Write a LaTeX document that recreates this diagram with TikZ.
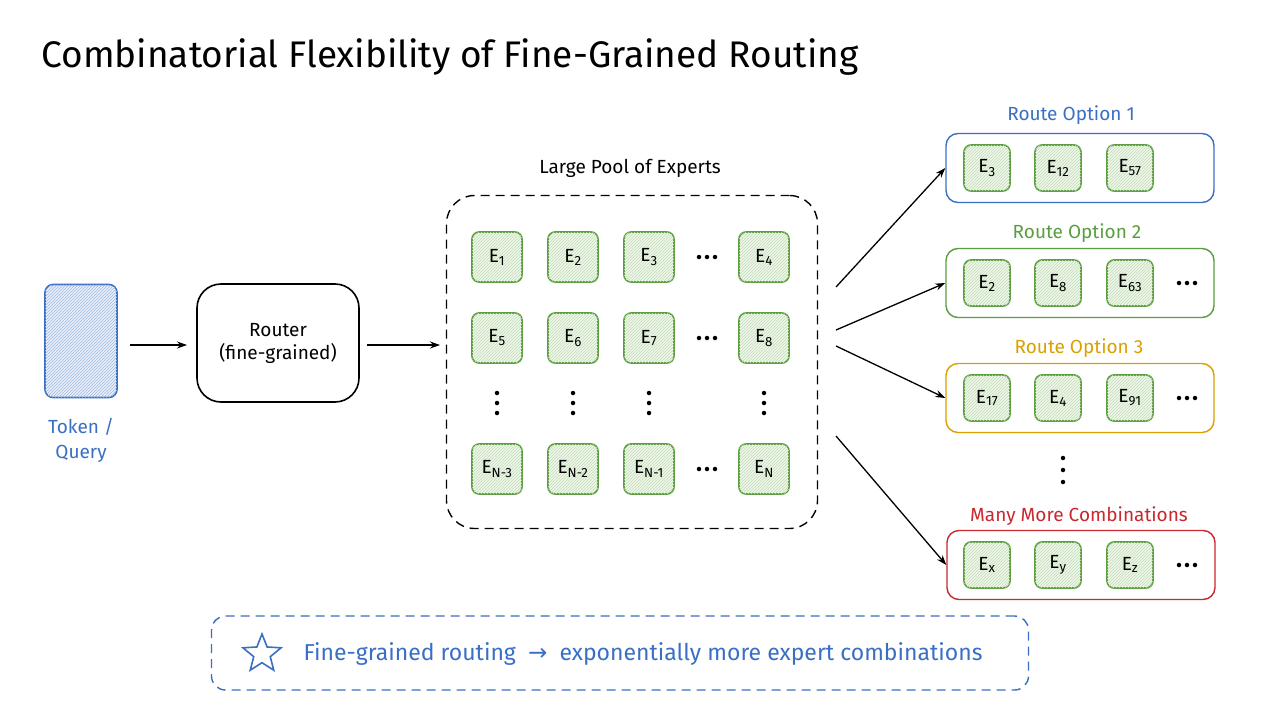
\documentclass[tikz,border=0pt]{standalone}
\usepackage{fontspec}
\setmainfont{Fira Sans}
\newfontfamily\dv{DejaVu Sans}
\usetikzlibrary{patterns,shapes.geometric,arrows.meta}
\definecolor{gE}{HTML}{5A9E3E}
\definecolor{gF}{HTML}{EEF7E8}
\definecolor{bB}{HTML}{3A6FC4}
\definecolor{oO}{HTML}{D9A000}
\definecolor{rR}{HTML}{C8282E}
\newcommand{\Ex}[1]{E\textsubscript{#1}}
\begin{document}
\begin{tikzpicture}[x=1pt,y=-1pt,
  ex/.style={draw=gE,line width=1.6pt,rounded corners=7pt,fill=gF,minimum width=#1,minimum height=#1,
     font=\fontsize{19}{19}\selectfont,inner sep=0pt,postaction={pattern=north east lines,pattern color=gE!35}},
  ex/.default=50pt,
  arr/.style={-{Stealth[length=10pt,width=7pt]},line width=1.3pt},
  rbox/.style={draw=#1,line width=1.4pt,rounded corners=12pt,minimum width=268pt,minimum height=69pt},
  lab/.style={font=\fontsize{19}{19}\selectfont},
  dot/.style={circle,fill,inner sep=0pt,minimum size=4.5pt}]
\useasboundingbox[fill=white] (0,0) rectangle (1280,720);
\node[anchor=west,font=\fontsize{37}{37}\selectfont] (title) at (38,57) {Combinatorial Flexibility of Fine-Grained Routing};
% token
\node[draw=bB,line width=1.6pt,rounded corners=8pt,fill=bB!10,minimum width=72pt,minimum height=113pt,postaction={pattern=north east lines,pattern color=bB!50}] (tok) at (81,341) {};
\node[lab,text=bB,align=center] (tokl) at (81,440) {Token /\\[6pt]Query};
% router
\node[draw,line width=1.6pt,rounded corners=24pt,minimum width=162pt,minimum height=118pt,lab,align=center] (rt) at (278,343) {Router\\[4pt](fine-grained)};
\coordinate (a1) at (130,345); \coordinate (a2) at (187,345);
\draw[arr] (a1) -- (a2);
\coordinate (b1) at (367,345); \coordinate (b2) at (440,345);
\draw[arr] (b1) -- (b2);
% pool
\node[draw,dashed,dash pattern=on 9pt off 6pt,line width=1.4pt,rounded corners=28pt,minimum width=371pt,minimum height=333pt] (pool) at (632,362) {};
\node[lab] (pooll) at (630,168) {Large Pool of Experts};
\foreach \t/\x/\y/\n in {1/497/257/e1,2/573/257/e2,3/649/257/e3,4/764/257/e4,
  5/497/338/e5,6/573/338/e6,7/649/338/e7,8/764/338/e8,
  N-3/497/469/e9,N-2/573/469/e10,N-1/649/469/e11,N/764/469/e12}
  \node[ex] (\n) at (\x,\y) {\Ex{\t}};
\foreach \y/\n in {257/d1,338/d2,469/d3}
  \foreach \k in {-1,0,1} \node[dot] (\n\k) at (707+\k*8,\y) {};
\foreach \x/\n in {497/v1,573/v2,649/v3,764/v4}
  \foreach \k in {-1,0,1} \node[dot] (\n\k) at (\x,403+\k*10) {};
% route boxes
\node[rbox=bB] (r1) at (1080,168) {};
\node[rbox=gE] (r2) at (1080,283) {};
\node[rbox=oO] (r3) at (1080,398) {};
\node[rbox=rR] (r4) at (1081,565) {};
\node[lab,text=bB] (l1) at (1071,115) {Route Option 1};
\node[lab,text=gE] (l2) at (1077,233) {Route Option 2};
\node[lab,text=oO] (l3) at (1079,348) {Route Option 3};
\node[lab,text=rR] (l4) at (1079,516) {Many More Combinations};
\foreach \r/\y/\a/\b/\c in {1/168/3/12/57,2/283/2/8/63,3/398/17/4/91,4/565/x/y/z}{
  \node[ex=46pt] (q\r a) at (987,\y) {\Ex{\a}};
  \node[ex=46pt] (q\r b) at (1058,\y) {\Ex{\b}};
  \node[ex=46pt] (q\r c) at (1130,\y) {\Ex{\c}};}
\foreach \r/\y in {2/283,3/398,4/565}
  \foreach \k in {-1,0,1} \node[dot] (qd\r\k) at (1187+\k*8,\y) {};
\foreach \k in {-1,0,1} \node[dot] (vv\k) at (1063,470+\k*12) {};
% fan arrows
\coordinate (f1) at (836,287); \coordinate (f2) at (836,330); \coordinate (f3) at (836,346); \coordinate (f4) at (836,436);
\draw[arr] (f1) -- (r1.west);
\draw[arr] (f2) -- (r2.west);
\draw[arr] (f3) -- (r3.west);
\draw[arr] (f4) -- (r4.west);
% bottom
\node[draw=bB,dashed,dash pattern=on 9pt off 6pt,line width=1.4pt,rounded corners=14pt,minimum width=817pt,minimum height=74pt] (bot) at (620,653) {};
\node[draw=bB,line width=1.6pt,star,star points=5,star point ratio=2.3,minimum size=40pt,inner sep=0pt] (st) at (262,654) {};
\node[anchor=west,text=bB,font=\fontsize{23}{23}\selectfont] (bt) at (300,654) {Fine-grained routing \ {\dv →} \ exponentially more expert combinations};
\end{tikzpicture}
\end{document}
